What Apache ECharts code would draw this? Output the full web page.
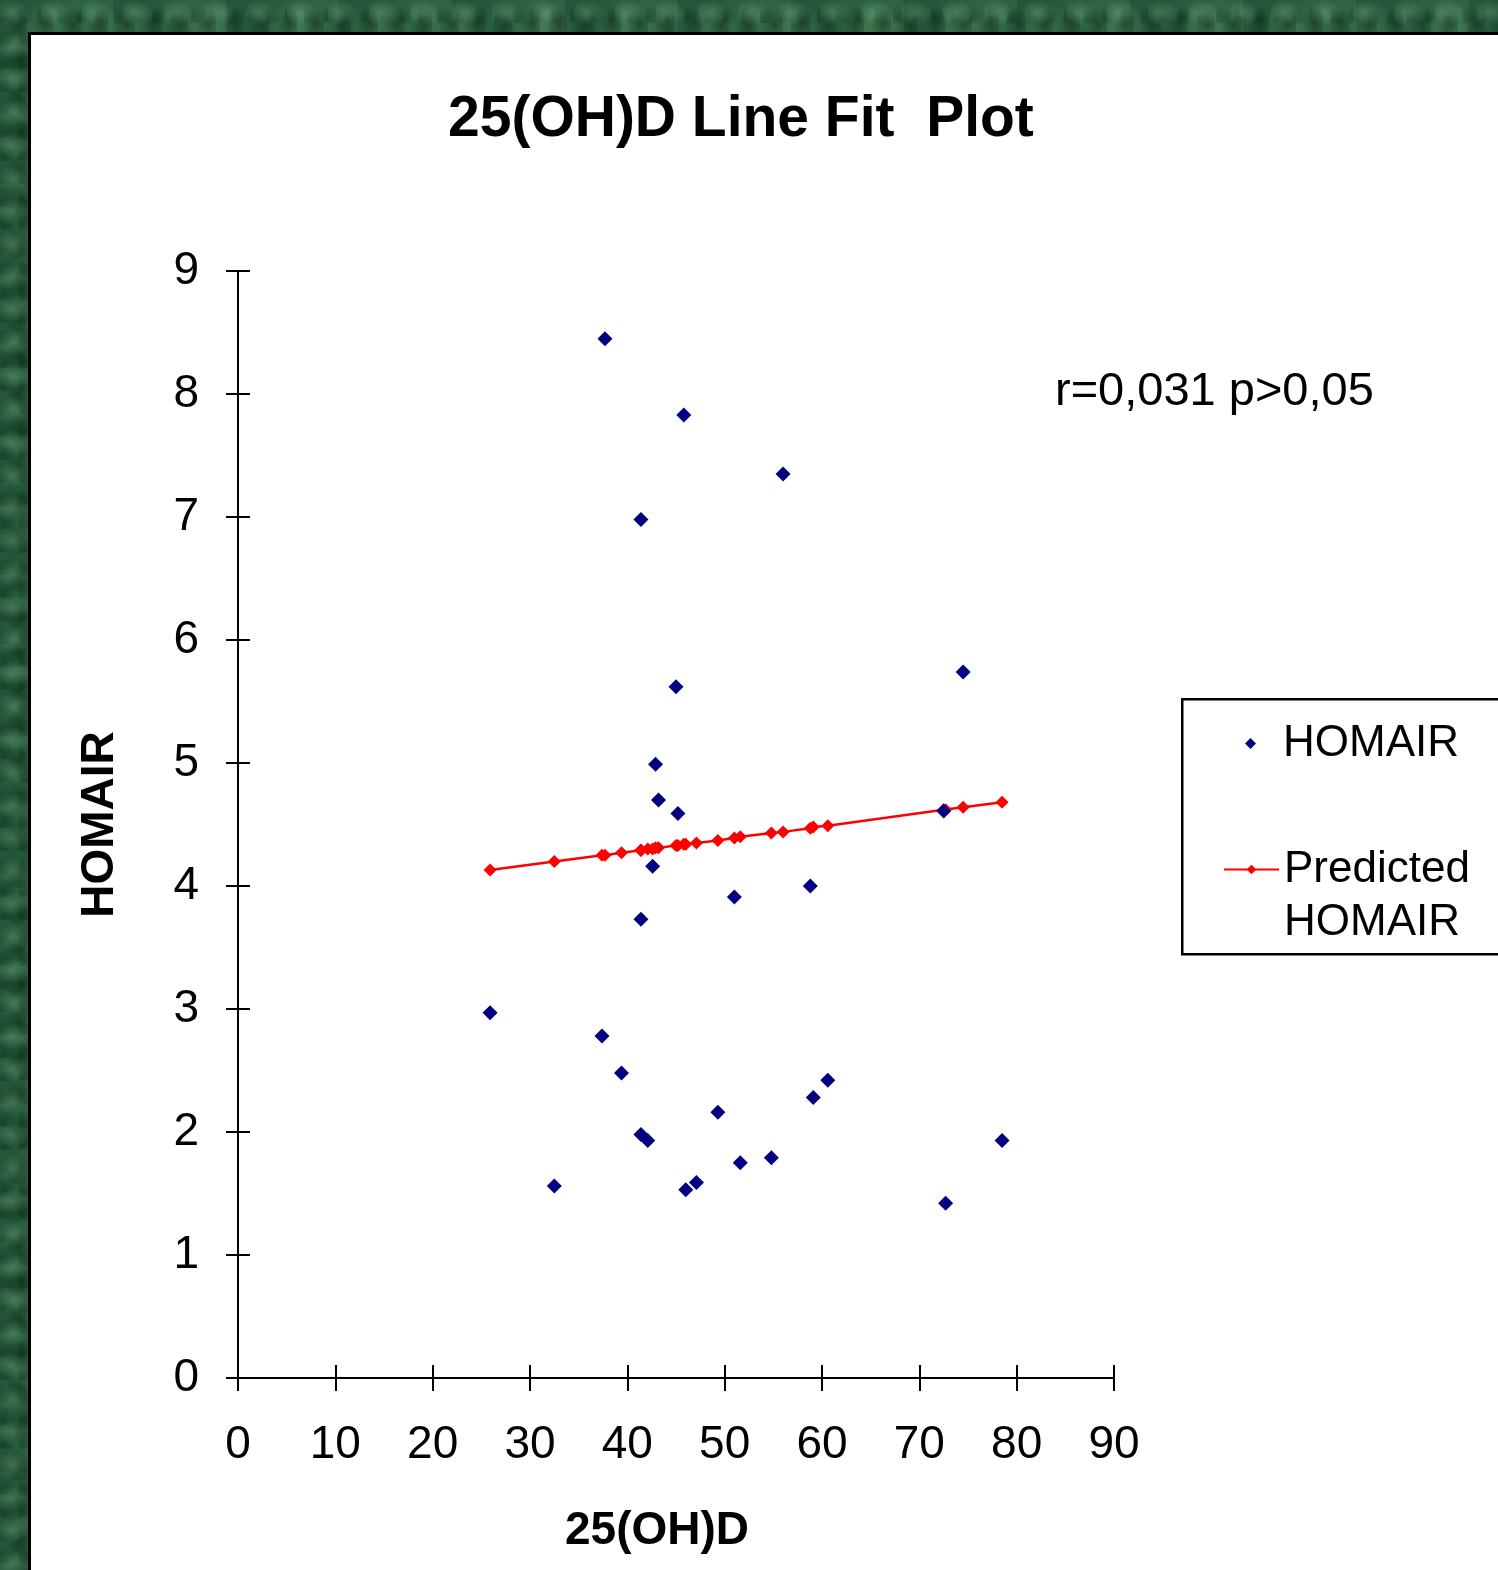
<!DOCTYPE html>
<html>
<head>
<meta charset="utf-8">
<script src="https://cdn.jsdelivr.net/npm/echarts@6/dist/echarts.min.js"></script>
<style>
  html, body { margin: 0; padding: 0; width: 1498px; height: 1570px; overflow: hidden; }
  body {
    position: relative;
    background-color: #24573a;
    background-image:
      radial-gradient(ellipse at 30% 40%, rgba(150,205,160,0.30), rgba(0,0,0,0) 45%),
      radial-gradient(ellipse at 70% 65%, rgba(8,35,18,0.50), rgba(0,0,0,0) 50%),
      radial-gradient(ellipse at 55% 45%, rgba(110,170,120,0.28), rgba(0,0,0,0) 55%),
      radial-gradient(ellipse at 20% 80%, rgba(10,45,22,0.45), rgba(0,0,0,0) 50%),
      radial-gradient(ellipse at 80% 20%, rgba(90,150,105,0.30), rgba(0,0,0,0) 50%);
    background-size: 41px 33px, 27px 37px, 83px 71px, 19px 23px, 113px 97px;
  }
  #panel {
    position: absolute; left: 28px; top: 32px; width: 1520px; height: 1600px;
    background: #fff; border-left: 3px solid #000; border-top: 3px solid #000;
  }
  #chart { position: absolute; left: 0; top: 0; width: 1498px; height: 1570px; }
</style>
</head>
<body>
<div id="panel"></div>
<div id="chart"></div>
<script>
// 25(OH)D values (x)
const vitaminD = [25.9, 32.5, 37.4, 37.7, 39.4, 41.4, 41.4, 41.4, 42.1, 42.6, 42.9, 43.2, 45.0, 45.2, 45.8, 46.0, 47.1, 49.3, 51.0, 51.6, 54.8, 56.0, 58.8, 59.1, 60.6, 72.5, 72.7, 74.5, 78.5];
// observed HOMAIR
const homair = [2.97, 1.56, 2.78, 8.45, 2.48, 6.98, 3.73, 1.98, 1.93, 4.16, 4.99, 4.70, 5.62, 4.59, 7.83, 1.53, 1.59, 2.16, 3.91, 1.75, 1.79, 7.35, 4.00, 2.28, 2.42, 4.61, 1.42, 5.74, 1.93];
// predicted HOMAIR
const predicted = [4.13, 4.20, 4.25, 4.25, 4.27, 4.29, 4.29, 4.29, 4.30, 4.30, 4.31, 4.31, 4.33, 4.33, 4.34, 4.34, 4.35, 4.37, 4.39, 4.40, 4.43, 4.44, 4.47, 4.48, 4.49, 4.62, 4.62, 4.64, 4.68];
const xTicks = { min: 0, max: 90, interval: 10 };
const yTicks = { min: 0, max: 9, interval: 1 };

const FONT = '"Liberation Sans", Arial, sans-serif';
const obsData = vitaminD.map((x, i) => [x, homair[i]]);
const predData = vitaminD.map((x, i) => [x, predicted[i]]);

const chart = echarts.init(document.getElementById('chart'), null, { renderer: 'canvas' });
const gridRect = { left: 238, top: 271, width: 876, height: 1107 };
const lineStyle = { color: '#000', width: 2 };

chart.setOption({
  animation: false,
  backgroundColor: 'transparent',
  textStyle: { fontFamily: FONT },
  title: {
    text: '25(OH)D Line Fit  Plot',
    left: 443, top: 87,
    textStyle: { fontFamily: FONT, fontSize: 57, fontWeight: 'bold', color: '#000', lineHeight: 57 }
  },
  grid: [
    Object.assign({ containLabel: false }, gridRect),
    Object.assign({ containLabel: false }, gridRect)
  ],
  xAxis: [
    {
      type: 'value', gridIndex: 0, min: xTicks.min, max: xTicks.max, interval: xTicks.interval,
      axisLine: { show: true, onZero: false, lineStyle },
      axisTick: { show: true, length: 13, lineStyle },
      axisLabel: { margin: 44, fontSize: 46, color: '#000', fontFamily: FONT },
      splitLine: { show: false },
      name: '25(OH)D', nameLocation: 'middle', nameGap: 130,
      nameTextStyle: { fontSize: 46, fontWeight: 'bold', color: '#000', fontFamily: FONT, padding: [0, 38, 0, 0] }
    },
    {
      type: 'value', gridIndex: 1, min: xTicks.min, max: xTicks.max, interval: xTicks.interval,
      axisLine: { show: false },
      axisTick: { show: true, inside: true, length: 13, lineStyle },
      axisLabel: { show: false },
      splitLine: { show: false }
    }
  ],
  yAxis: [
    {
      type: 'value', gridIndex: 0, min: yTicks.min, max: yTicks.max, interval: yTicks.interval,
      axisLine: { show: true, onZero: false, lineStyle },
      axisTick: { show: true, length: 12, lineStyle },
      axisLabel: { margin: 39, fontSize: 46, color: '#000', fontFamily: FONT },
      splitLine: { show: false },
      name: 'HOMAIR', nameLocation: 'middle', nameGap: 115,
      nameTextStyle: { fontSize: 46, fontWeight: 'bold', color: '#000', fontFamily: FONT }
    },
    {
      type: 'value', gridIndex: 1, min: yTicks.min, max: yTicks.max, interval: yTicks.interval,
      axisLine: { show: false },
      axisTick: { show: true, inside: true, length: 12, lineStyle },
      axisLabel: { show: false },
      splitLine: { show: false }
    }
  ],
  legend: [
    {
      data: [{ name: 'HOMAIR', icon: 'diamond' }], orient: 'vertical', left: 1245, top: 717, padding: 0,
      itemWidth: 11, itemHeight: 11, selectedMode: false,
      textStyle: { fontSize: 44, color: '#000', fontFamily: FONT, lineHeight: 53, padding: [0, 0, 0, 22] }
    },
    {
      data: ['Predicted HOMAIR'], orient: 'vertical', left: 1223, top: 790, padding: 0,
      itemWidth: 55, itemHeight: 12, selectedMode: false,
      formatter: () => '\nPredicted\nHOMAIR',
      textStyle: { fontSize: 44, color: '#000', fontFamily: FONT, lineHeight: 53 }
    }
  ],
  graphic: [
    {
      type: 'rect', left: 1181, top: 698, z: -1, silent: true,
      shape: { width: 400, height: 255 },
      style: { fill: '#fff', stroke: '#000', lineWidth: 2.5 }
    },
    {
      type: 'text', left: 1055, top: 369, silent: true,
      style: { text: 'r=0,031 p>0,05', fontSize: 47, fontFamily: FONT, fill: '#000' }
    }
  ],
  series: [
    {
      name: 'HOMAIR', type: 'scatter', xAxisIndex: 0, yAxisIndex: 0, z: 4,
      symbol: 'diamond', symbolSize: 15,
      itemStyle: { color: '#000080', opacity: 1 },
      data: obsData
    },
    {
      name: 'Predicted HOMAIR', type: 'line', xAxisIndex: 0, yAxisIndex: 0, z: 3,
      symbol: 'diamond', symbolSize: 13, showSymbol: true,
      lineStyle: { color: '#ff0000', width: 2.5 },
      itemStyle: { color: '#ff0000', opacity: 1 },
      data: predData
    }
  ]
});
</script>
</body>
</html>
